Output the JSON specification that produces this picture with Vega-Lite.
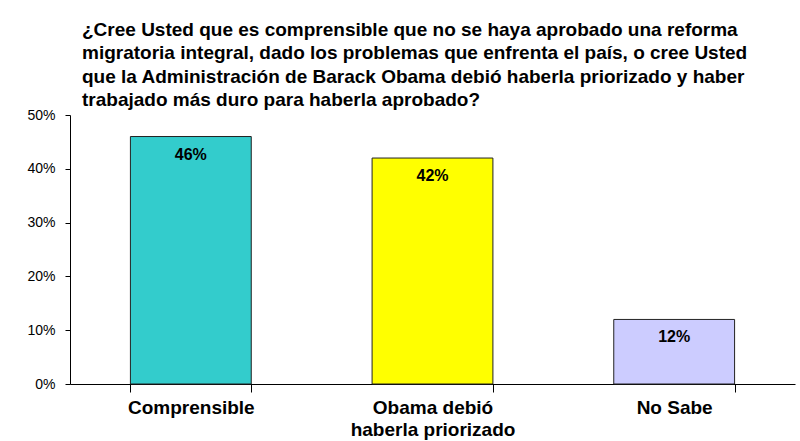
{
  "$schema": "https://vega.github.io/schema/vega-lite/v6.json",
  "width": 725,
  "height": 269,
  "autosize": {"type": "none"},
  "padding": {"left": 70, "top": 115, "right": 5, "bottom": 57},
  "background": "white",
  "config": {"view": {"stroke": null}},
  "title": {
    "text": [
      "¿Cree Usted que es comprensible que no se haya aprobado una reforma",
      "migratoria integral, dado los problemas que enfrenta el país, o cree Usted",
      "que la Administración de Barack Obama debió haberla priorizado y haber",
      "trabajado más duro para haberla aprobado?"
    ],
    "anchor": "start",
    "frame": "group",
    "dx": 12,
    "offset": -2,
    "font": "Liberation Sans",
    "fontSize": 19,
    "fontWeight": "bold",
    "lineHeight": 23.5,
    "color": "black"
  },
  "data": {
    "values": [
      {"respuesta": "Comprensible", "pct": 0.46},
      {"respuesta": "Obama debió haberla priorizado", "pct": 0.42},
      {"respuesta": "No Sabe", "pct": 0.12}
    ]
  },
  "encoding": {
    "x": {
      "field": "respuesta",
      "type": "nominal",
      "sort": null,
      "title": null,
      "scale": {"paddingInner": 0.5, "paddingOuter": 0.25},
      "axis": {
        "labelAngle": 0,
        "tickBand": "extent",
        "tickSize": 8,
        "tickColor": "black",
        "domainColor": "black",
        "labelFont": "Liberation Sans",
        "labelFontSize": 19,
        "labelFontWeight": "bold",
        "labelColor": "black",
        "labelPadding": 6,
        "labelLineHeight": 22,
        "labelExpr": "datum.label == 'Obama debió haberla priorizado' ? ['Obama debió', 'haberla priorizado'] : datum.label"
      }
    },
    "y": {
      "field": "pct",
      "type": "quantitative",
      "title": null,
      "scale": {"domain": [0, 0.5]},
      "axis": {
        "values": [0, 0.1, 0.2, 0.3, 0.4, 0.5],
        "format": ".0%",
        "grid": false,
        "tickSize": 5,
        "tickColor": "black",
        "domainColor": "black",
        "labelFont": "Liberation Sans",
        "labelFontSize": 14,
        "labelColor": "black",
        "labelPadding": 10
      }
    }
  },
  "layer": [
    {
      "mark": {"type": "bar", "stroke": "#222222", "strokeWidth": 1},
      "encoding": {
        "color": {
          "field": "respuesta",
          "type": "nominal",
          "legend": null,
          "scale": {
            "domain": ["Comprensible", "Obama debió haberla priorizado", "No Sabe"],
            "range": ["#33CCCC", "#FFFF00", "#CCCCFF"]
          }
        }
      }
    },
    {
      "mark": {
        "type": "text",
        "baseline": "top",
        "dy": 10,
        "font": "Liberation Sans",
        "fontSize": 16,
        "fontWeight": "bold",
        "color": "black"
      },
      "encoding": {"text": {"field": "pct", "type": "quantitative", "format": ".0%"}}
    }
  ]
}
